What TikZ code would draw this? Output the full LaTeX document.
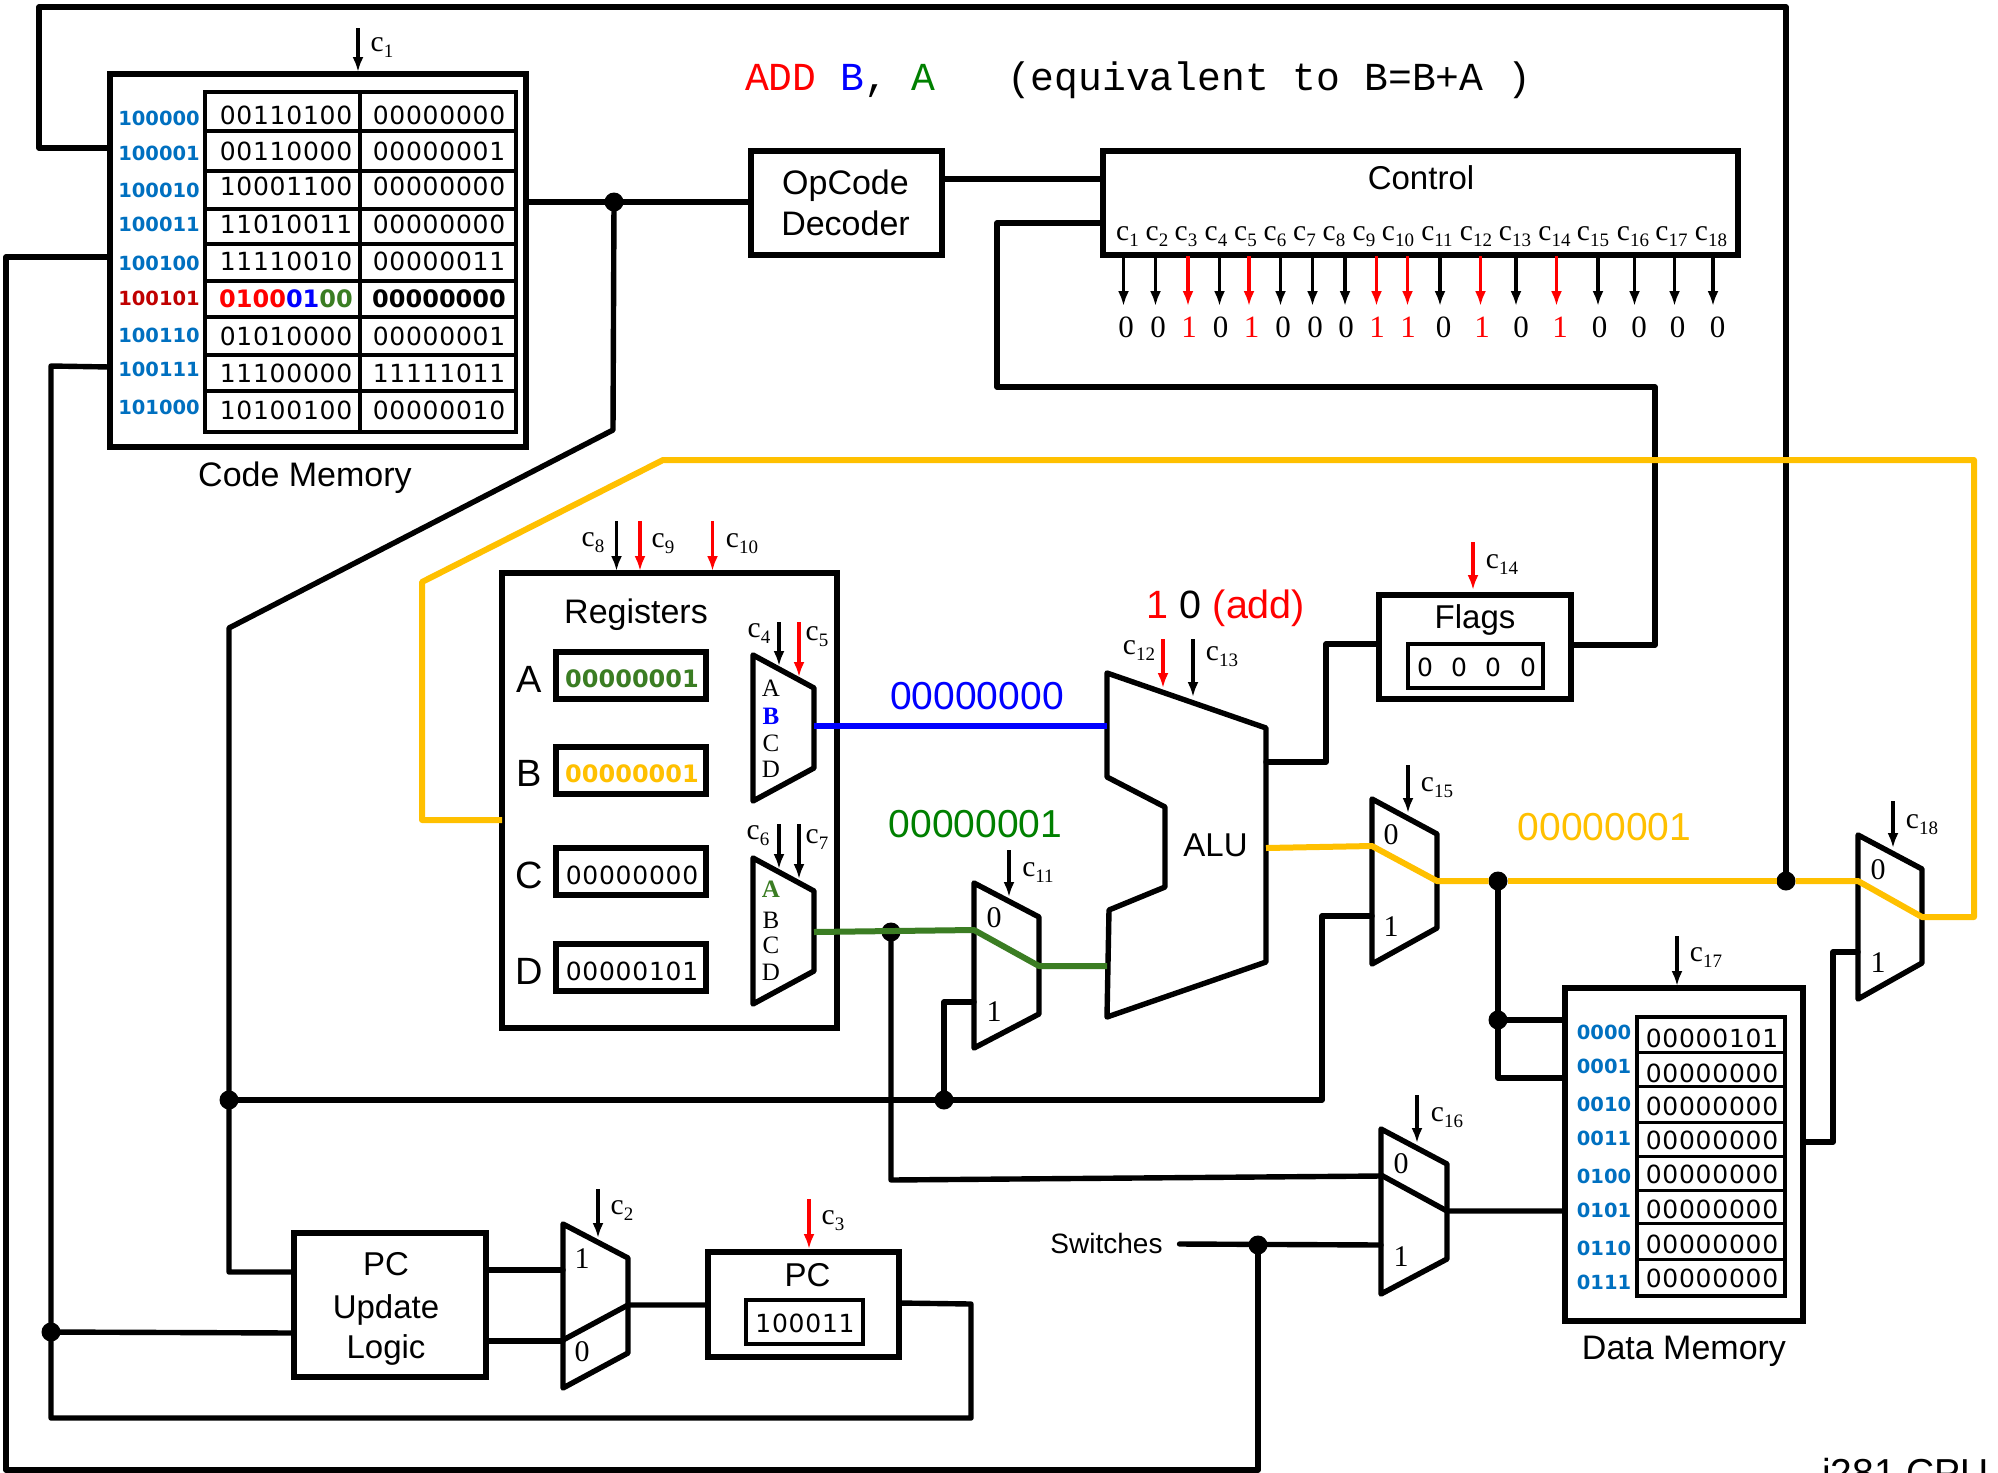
\documentclass[tikz,border=0pt]{standalone}
\usepackage{fontspec}
\usetikzlibrary{arrows.meta}
\setmainfont{Liberation Sans}
\newfontfamily\serf{Liberation Serif}
\newfontfamily\digf[LetterSpace=3]{DejaVu Sans}
\newfontfamily\digb[BoldFont={DejaVu Sans Bold}]{DejaVu Sans}
\newfontfamily\monof{Liberation Mono}
\newcommand\fsz[1]{\fontsize{#1}{#1}\selectfont}
\definecolor{myblue}{HTML}{0070C0}
\definecolor{mydark}{HTML}{C00000}
\definecolor{myorange}{HTML}{FFC000}
\definecolor{mygreen}{HTML}{3B7D23}
\definecolor{lblgreen}{HTML}{008000}
\tikzset{
  wire/.style={line width=5.4pt,line join=round,line cap=round},
  thinw/.style={line width=3.2pt,line join=round},
  ywire/.style={line width=6pt,color=myorange,line join=round},
  gwire/.style={line width=6pt,color=mygreen,line join=round},
  bwire/.style={line width=6pt,color=blue},
  sigarrow/.style={line width=3.8pt,-{Latex[length=15pt,width=11pt]}},
  blk/.style={draw,line width=5.4pt,inner sep=0pt,outer sep=0pt,rectangle},
  inbox/.style={draw,line width=3.6pt,inner sep=0pt,outer sep=0pt,rectangle},
  txt/.style={inner sep=0pt,outer sep=0pt},
  dot/.style={circle,fill=black,inner sep=0pt,outer sep=0pt,minimum size=19pt},
}
\newcommand\blockbox[6]{\node[#1,minimum width={#5pt-#3pt},minimum height={#6pt-#4pt}] (#2) at ({(#3+#5)/2},{(#4+#6)/2}) {};}
\newcommand\mux[7]{%
  \coordinate (#1-tl) at (#2,#4);\coordinate (#1-tr) at (#3,#5);
  \coordinate (#1-br) at (#3,#6);\coordinate (#1-bl) at (#2,#7);
  \draw[wire] (#1-tl)--(#1-tr)--(#1-br)--(#1-bl)--cycle;}
\newcommand\sig[5]{%
  \coordinate (#1-s) at (#2,#3);\coordinate (#1-e) at (#2,#4);
  \draw[sigarrow,#5] (#1-s)--(#1-e);}
\newcommand\csub[1]{{\serf\fsz{29.5}c\raisebox{-6pt}{\fsz{19}#1}}}
\newcommand\lab[4]{\node[txt] (#1) at (#2,#3) {\csub{#4}};}
\newcommand\sertxt[4]{\node[txt] (#1) at (#2,#3) {\serf\fsz{30}#4};}
\begin{document}
\begin{tikzpicture}[x=1pt,y=-1pt]
\useasboundingbox (0,0) rectangle (1998,1473);
\fill[white] (0,0) rectangle (1998,1473);

% ---------- blocks
\blockbox{blk}{cm}{110}{74}{526}{447}
\blockbox{inbox}{cmt}{205}{92}{516}{432}
\blockbox{blk}{opc}{751}{151}{942}{255}
\blockbox{blk}{ctrl}{1103}{151}{1738}{255}
\blockbox{blk}{regs}{502}{573}{837}{1028}
\blockbox{blk}{flags}{1379}{595}{1571}{699}
\blockbox{inbox}{flagv}{1408}{644}{1543}{688}
\blockbox{blk}{dm}{1565}{988}{1803}{1321}
\blockbox{inbox}{dmt}{1637}{1017}{1785}{1296}
\blockbox{blk}{pcu}{294}{1233}{486}{1377}
\blockbox{blk}{pc}{708}{1252}{899}{1357}
\blockbox{inbox}{pcv}{746}{1300}{863}{1344}
\blockbox{blk}{ra}{556}{652}{706}{699}
\blockbox{blk}{rb}{556}{747}{706}{794}
\blockbox{blk}{rc}{556}{848}{706}{895}
\blockbox{blk}{rd}{556}{944}{706}{991}

% ---------- tables
\draw[thinw] (cmt.north -| 360,0) -- (cmt.south -| 360,0);
\foreach \y in {131,171,209,244,281,317,355,391}{\draw[thinw] (cmt.west |- 0,\y) -- (cmt.east |- 0,\y);}
\foreach \y in {1052,1086,1122,1156,1190,1223,1259}{\draw[line width=3pt] (dmt.west |- 0,\y) -- (dmt.east |- 0,\y);}

% ---------- code memory text
\foreach \n/\y/\t in {a0/118/100000,a1/153/100001,a2/190/100010,a3/224/100011,a4/263/100100,a6/335/100110,a7/369/100111,a8/407/101000}{
  \node[txt,text=myblue] (cm\n) at (159,\y) {\digb\bfseries\fsz{19.5}\t};}
\node[txt,text=mydark] (cma5) at (159,298) {\digb\bfseries\fsz{19.5}100101};
\foreach \n/\y/\p/\q in {0/115/00110100/00000000,1/151/00110000/00000001,2/186/10001100/00000000,3/224/11010011/00000000,4/261/11110010/00000011,6/336/01010000/00000001,7/373/11100000/11111011,8/410/10100100/00000010}{
  \node[txt] (cmp\n) at (286,\y) {\digf\fsz{25}\p};
  \node[txt] (cmq\n) at (439,\y) {\digf\fsz{25}\q};}
\node[txt] (cmp5) at (286,299) {\digb\bfseries\fsz{24}\textcolor{red}{0100}\textcolor{blue}{01}\textcolor{mygreen}{00}};
\node[txt] (cmq5) at (439,299) {\digb\bfseries\fsz{24}00000000};
\node[txt] (cmlabel) at (305,477.5) {\fsz{34}Code Memory};

% ---------- title
\node[txt,anchor=base west] (title) at (745,90) {\monof\fsz{39.7}\textcolor{red}{ADD}\ \textcolor{blue}{B}\textcolor{black}{,}\ \textcolor{lblgreen}{A}\ \ \ (equivalent to B=B+A )};

% ---------- block texts
\node[txt] (opc1) at (845.5,185.5) {\fsz{34}OpCode};
\node[txt] (opc2) at (845.5,223.5) {\fsz{34}Decoder};
\node[txt] (ctrlt) at (1421,178) {\fsz{33}Control};
\node[txt] (regt) at (636,614.5) {\fsz{34}Registers};
\foreach \n/\y in {A/679,B/773,C/875,D/971}{\node[txt] (rl\n) at (529,\y) {\fsz{38}\n};}
\node[txt,text=mygreen] (rav) at (632,679) {\digb\bfseries\fsz{24}00000001};
\node[txt,text=myorange] (rbv) at (632,774) {\digb\bfseries\fsz{24}00000001};
\node[txt] (rcv) at (632,875) {\digf\fsz{25}00000000};
\node[txt] (rdv) at (632,971) {\digf\fsz{25}00000101};
\node[txt] (flagt) at (1475,620) {\fsz{33}Flags};
\foreach \x in {1425,1459,1493,1528}{\node[txt] (fv\x) at (\x,667) {\digf\fsz{25}0};}
\node[txt] (alut) at (1215.5,845) {\fsz{33}ALU};
\node[txt] (add) at (1226,608.5) {\fsz{39.5}\textcolor{red}{1} 0 \textcolor{red}{(add)}};
\node[txt,text=blue] (vb) at (977,696.5) {\fsz{39}00000000};
\node[txt,text=lblgreen] (vg) at (975.5,824) {\fsz{39}00000001};
\node[txt,text=myorange] (vy) at (1604.5,827) {\fsz{39}00000001};
\node[txt] (pcu1) at (386,1264) {\fsz{33}PC};
\node[txt] (pcu2) at (386,1309.5) {\fsz{33}Update};
\node[txt] (pcu3) at (386,1350) {\fsz{33}Logic};
\node[txt] (pct) at (807.5,1275) {\fsz{33}PC};
\node[txt] (pcval) at (805,1323) {\digf\fsz{25}100011};
\node[txt] (sw) at (1106.5,1243) {\fsz{28}Switches};
\node[txt] (dmlabel) at (1684,1351.5) {\fsz{34}Data Memory};
\node[txt,anchor=base west] (cpu) at (1822,1486) {\fsz{39}i281 CPU};

% ---------- data memory text
\foreach \n/\y/\t in {0/1032/0000,1/1066/0001,2/1104/0010,3/1138/0011,4/1176/0100,5/1210/0101,6/1248/0110,7/1282/0111}{
  \node[txt,text=myblue] (dma\n) at (1604,\y) {\digb\bfseries\fsz{19.5}\t};}
\foreach \n/\y/\t in {0/1038/00000101,1/1073/00000000,2/1106/00000000,3/1140/00000000,4/1174/00000000,5/1209/00000000,6/1244/00000000,7/1278/00000000}{
  \node[txt] (dmv\n) at (1712,\y) {\digf\fsz{25}\t};}

% ---------- muxes
\mux{ma}{753}{814}{655}{688}{768}{801}
\mux{mb}{753}{814}{858}{891}{971}{1004}
\mux{m11}{974}{1039}{883}{917}{1014}{1048}
\mux{m15}{1372}{1437}{799}{834}{928}{964}
\mux{m16}{1381}{1447}{1129}{1164}{1259}{1294}
\mux{m18}{1858}{1922}{835}{869}{963}{999}
\mux{mpc}{563}{628}{1224}{1258}{1353}{1388}
\coordinate (al1) at (1107,673);\coordinate (al2) at (1266,728);\coordinate (al3) at (1266,962);\coordinate (al4) at (1107,1017);
\coordinate (al5) at (1109,910);\coordinate (al6) at (1165,887);\coordinate (al7) at (1165,807);\coordinate (al8) at (1107,777);
\draw[wire] (al1)--(al2)--(al3)--(al4)--(al5)--(al6)--(al7)--(al8)--cycle;

% ---------- mux labels
\foreach \n/\x/\y/\t in {A/771/688/A,C/771/743/C,D/771/769/D,Bb/771/920/B,Cb/771/945/C,Db/771/972/D}{\node[txt] (ml\n) at (\x,\y) {\serf\fsz{25}\t};}
\node[txt,text=blue] (mlB) at (771,716) {\serf\fsz{25}\bfseries B};
\node[txt,text=mygreen] (mlAb) at (771,889) {\serf\fsz{25}\bfseries A};
\sertxt{n11a}{994}{918}{0}\sertxt{n11b}{994}{1012}{1}
\sertxt{n15a}{1391}{835}{0}\sertxt{n15b}{1391}{927}{1}
\sertxt{n16a}{1401}{1164}{0}\sertxt{n16b}{1401}{1257}{1}
\sertxt{n18a}{1878}{870}{0}\sertxt{n18b}{1878}{963}{1}
\sertxt{npca}{582}{1259}{1}\sertxt{npcb}{582}{1352}{0}

% ---------- junction coordinates
\coordinate (jcm) at (614,202);
\coordinate (jpc) at (51,1332);
\coordinate (jbus) at (229,1100);
\coordinate (j11) at (944,1100);
\coordinate (jg) at (891,932);
\coordinate (jy1) at (1498,881);
\coordinate (jy2) at (1786,881);
\coordinate (jdm) at (1498,1020);
\coordinate (jsw) at (1258,1245);

% ---------- black wires
\draw[wire] (cm.west |- 0,148) -- (39,148) -- (39,7) -- (1786,7) -- (jy2);
\draw[wire] (cm.west |- 0,257) -- (6,257) -- (6,1470) -- (1258,1470) -- (jsw);
\draw[wire] (cm.west |- 0,367) -- (51,366) -- (jpc) -- (51,1418) -- (971,1418) -- (971,1304) -- (pc.east |- 0,1303);
\draw[wire] (jpc) -- (pcu.west |- 0,1333);
\draw[wire] (cm.east |- jcm) -- (opc.west |- jcm);
\draw[wire] (jcm) -- (613,430) -- (229,628) -- (jbus) -- (229,1272) -- (pcu.west |- 0,1272);
\draw[wire] (jbus) -- (1322,1100) -- (1322,916) -- (m15-tl |- 0,916);
\draw[wire] (j11) -- (944,1002) -- (m11-tl |- 0,1002);
\draw[wire] (opc.east |- 0,179) -- (ctrl.west |- 0,179);
\draw[wire] (ctrl.west |- 0,223) -- (997,223) -- (997,387) -- (1655,387) -- (1655,645) -- (flags.east |- 0,645);
\draw[wire] (al2 |- 0,762) -- (1326,762) -- (1326,644) -- (flags.west |- 0,644);
\draw[wire] (pcu.east |- 0,1270) -- (mpc-tl |- 0,1270);
\draw[wire] (pcu.east |- 0,1341) -- (mpc-tl |- 0,1341);
\draw[wire] (mpc-tl |- 0,1340) -- (mpc-tr |- 0,1305) -- (pc.west |- 0,1305);
\draw[wire] (jy1) -- (jdm) -- (1498,1078) -- (dm.west |- 0,1078);
\draw[wire] (jdm) -- (dm.west |- jdm);
\draw[wire] (m16-tl |- 0,1175) -- (m16-tr |- 0,1211) -- (dm.west |- 0,1211);
\draw[wire] (jg) -- (891,1180) -- (m16-tl |- 0,1176);
\draw[wire] (sw.east) ++(17,1) -- (m16-tl |- 0,1245);
\draw[wire] (dm.east |- 0,1142) -- (1833,1142) -- (1833,952) -- (m18-tl |- 0,952);

% ---------- dots
\node[dot] (djcm) at (jcm) {};
\node[dot] (djpc) at (jpc) {};
\node[dot] (djbus) at (jbus) {};
\node[dot] (dj11) at (j11) {};
\node[dot] (djg) at (jg) {};
\node[dot] (djy1) at (jy1) {};
\node[dot] (djy2) at (jy2) {};
\node[dot] (djdm) at (jdm) {};
\node[dot] (djsw) at (jsw) {};

% ---------- coloured wires
\draw[bwire] (ma-tr |- 0,726) -- (al1 |- 0,726);
\draw[gwire] (mb-tr |- 0,932) -- (m11-tl |- 0,930) -- (m11-tr |- 0,966) -- (al4 |- 0,966);
\draw[ywire] (regs.west |- 0,820) -- (422,820) -- (422,582) -- (663,460) -- (1974,460) -- (1974,917) -- (m18-tr |- 0,917) -- (m18-tl |- 0,881) -- (djy2.east);
\draw[ywire] (djy2.west) -- (djy1.east);
\draw[ywire] (djy1.west) -- (m15-tr |- 0,881) -- (m15-tl |- 0,846) -- (al2 |- 0,848);

% ---------- control signals
\foreach \i/\c/\a/\col in {1/1127.5/1123.5/black,2/1157/1155.5/black,3/1186/1188/red,4/1216/1219.5/black,5/1245.5/1249/red,6/1275/1280.5/black,7/1304.5/1312.5/black,8/1334/1345/black,9/1364/1376.5/red,10/1398/1407.5/red,11/1437/1440/black,12/1476/1480.5/red,13/1515/1516/black,14/1554.5/1556.5/red,15/1593/1598/black,16/1633/1634.5/black,17/1671.5/1674.5/black,18/1711/1713/black}{
  \lab{cl\i}{\c}{237}{\i}
  \sig{ca\i}{\a}{256}{306}{\col}
}
\foreach \i/\d/\b/\col in {1/1126/0/black,2/1158/0/black,3/1189/1/red,4/1220.5/0/black,5/1251.5/1/red,6/1283/0/black,7/1315/0/black,8/1346/0/black,9/1377/1/red,10/1408/1/red,11/1443.5/0/black,12/1482/1/red,13/1521/0/black,14/1560/1/red,15/1599.5/0/black,16/1639/0/black,17/1677.5/0/black,18/1717.5/0/black}{
  \node[txt,text=\col] (bit\i) at (\d,327) {\serf\fsz{31}\b};
}

% ---------- local control arrows and labels
\sig{s1}{358}{28}{72}{black}\lab{l1}{382}{48}{1}
\sig{s2}{598}{1189}{1238}{black}\lab{l2}{622}{1211}{2}
\sig{s3}{809}{1199}{1249}{red}\lab{l3}{833}{1221}{3}
\sig{s4}{779}{622}{666}{black}\lab{l4}{759}{634}{4}
\sig{s5}{799}{622}{677}{red}\lab{l5}{817}{637}{5}
\sig{s6}{779}{824}{869}{black}\lab{l6}{758}{836}{6}
\sig{s7}{799}{824}{879}{black}\lab{l7}{817}{840}{7}
\sig{s8}{616.5}{521}{571}{black}\lab{l8}{593}{543}{8}
\sig{s9}{640}{521}{571}{red}\lab{l9}{663}{544}{9}
\sig{s10}{712.5}{521}{571}{red}\lab{l10}{742}{544}{10}
\sig{s11}{1009}{850}{897}{black}\lab{l11}{1038}{873}{11}
\sig{s12}{1163}{639}{688}{red}\lab{l12}{1139}{651}{12}
\sig{s13}{1193}{639}{697}{black}\lab{l13}{1222}{657}{13}
\sig{s14}{1473}{542}{590}{red}\lab{l14}{1502}{565}{14}
\sig{s15}{1408}{765}{813}{black}\lab{l15}{1437}{788}{15}
\sig{s16}{1417}{1095}{1143}{black}\lab{l16}{1447}{1118}{16}
\sig{s17}{1677}{936}{986}{black}\lab{l17}{1706}{958}{17}
\sig{s18}{1893}{801}{848}{black}\lab{l18}{1922}{825}{18}
\end{tikzpicture}
\end{document}
